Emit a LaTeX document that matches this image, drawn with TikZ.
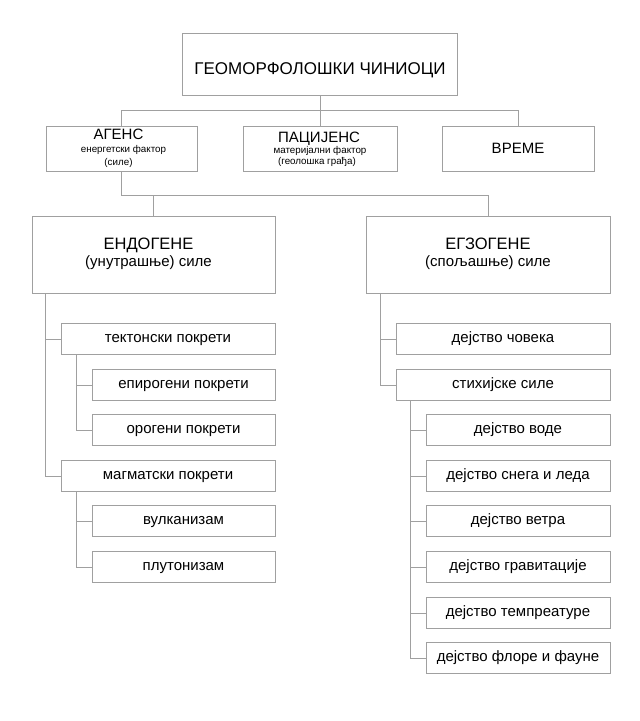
\documentclass[tikz,border=0pt]{standalone}
\usepackage{fontspec}
\setmainfont{Liberation Sans}
\definecolor{bord}{RGB}{160,160,160}
\tikzset{
  x=1pt, y=-1pt,
  box/.style={draw=bord, line width=1pt, fill=white, inner sep=0pt, anchor=center},
  lbl/.style={box, minimum height=31pt, font=\fontsize{15}{15}\selectfont, text height=7.8pt, text depth=0pt},
  conn/.style={draw=bord, line width=1pt},
}
\begin{document}
\begin{tikzpicture}
\useasboundingbox (0,0) rectangle (640,721);
% top
\node[box, minimum width=274.5pt, minimum height=61.5pt, font=\fontsize{17}{17}\selectfont, text height=20.8pt, text depth=0pt] (top) at (320,64.5) {ГЕОМОРФОЛОШКИ ЧИНИОЦИ};
% second row
\node[box, minimum width=151pt, minimum height=45pt] (agens) at (121.5,148.5) {};
\node[box, minimum width=154pt, minimum height=45pt] (pac) at (320,148.5) {};
\node[box, minimum width=152pt, minimum height=45pt, font=\fontsize{15}{15}\selectfont, text height=10.7pt, text depth=0pt] (vreme) at (518,148.5) {ВРЕМЕ};
\node[anchor=base, inner sep=0pt, font=\fontsize{15}{15}\selectfont] (agensA) at ([xshift=-3pt,yshift=9.3pt]agens.center) {АГЕНС};
\node[anchor=base, inner sep=0pt, font=\fontsize{9.8}{9.8}\selectfont] (agensB) at ([xshift=2pt,yshift=-4pt]agens.center) {енергетски фактор};
\node[anchor=base, inner sep=0pt, font=\fontsize{9.8}{9.8}\selectfont] (agensC) at ([xshift=-3pt,yshift=-16.5pt]agens.center) {(силе)};
\node[anchor=base, inner sep=0pt, font=\fontsize{15}{15}\selectfont] (pacA) at ([xshift=-1pt,yshift=6.5pt]pac.center) {ПАЦИЈЕНС};
\node[anchor=base, inner sep=0pt, font=\fontsize{9.8}{9.8}\selectfont] (pacB) at ([yshift=-5pt]pac.center) {материјални фактор};
\node[anchor=base, inner sep=0pt, font=\fontsize{9.8}{9.8}\selectfont] (pacC) at ([xshift=-3pt,yshift=-16pt]pac.center) {(геолошка грађа)};
% third row
\node[box, minimum width=243pt, minimum height=77pt] (endo) at (153.5,254.5) {};
\node[box, minimum width=244pt, minimum height=77pt] (egzo) at (488,254.5) {};
\node[anchor=base, inner sep=0pt, font=\fontsize{16.5}{16.5}\selectfont] (endoA) at ([xshift=-5pt,yshift=5.2pt]endo.center) {ЕНДОГЕНЕ};
\node[anchor=base, inner sep=0pt, font=\fontsize{15}{15}\selectfont] (endoB) at ([xshift=-5pt,yshift=-12.2pt]endo.center) {(унутрашње) силе};
\node[anchor=base, inner sep=0pt, font=\fontsize{16.5}{16.5}\selectfont] (egzoA) at ([yshift=5.2pt]egzo.center) {ЕГЗОГЕНЕ};
\node[anchor=base, inner sep=0pt, font=\fontsize{15}{15}\selectfont] (egzoB) at ([yshift=-12.2pt]egzo.center) {(спољашње) силе};
% left column
\node[lbl, minimum width=214pt] (tekt) at (168,339) {тектонски покрети};
\node[lbl, minimum width=183pt] (epi) at (183.5,385) {епирогени покрети};
\node[lbl, minimum width=183pt] (oro) at (183.5,430) {орогени покрети};
\node[lbl, minimum width=214pt] (mag) at (168,476) {магматски покрети};
\node[lbl, minimum width=183pt] (vulk) at (183.5,521) {вулканизам};
\node[lbl, minimum width=183pt] (plut) at (183.5,567) {плутонизам};
% right column
\node[lbl, minimum width=214pt] (covek) at (503,339) {дејство човека};
\node[lbl, minimum width=214pt] (stih) at (503,385) {стихијске силе};
\node[lbl, minimum width=184pt] (voda) at (518,430) {дејство воде};
\node[lbl, minimum width=184pt] (sneg) at (518,476) {дејство снега и леда};
\node[lbl, minimum width=184pt] (vetar) at (518,521) {дејство ветра};
\node[lbl, minimum width=184pt] (grav) at (518,567) {дејство гравитације};
\node[lbl, minimum width=184pt] (temp) at (518,613) {дејство темпреатуре};
\node[lbl, minimum width=184pt] (flora) at (518,658) {дејство флоре и фауне};
% connectors
\coordinate (busA) at (0,110);
\coordinate (busB) at (0,195);
\draw[conn] (top.south) -- (pac.north);
\draw[conn] (agens.north) |- (busA -| vreme.north) -- (vreme.north);
\draw[conn] (agens.south) |- (busB -| egzo.north) -- (egzo.north);
\draw[conn] (endo.north) -- (endo.north |- busB);
% endogene tree
\coordinate (eL) at ([xshift=14pt]endo.south west);
\draw[conn] (eL) |- (mag.west);
\draw[conn] (tekt.west) -- (tekt.west -| eL);
\coordinate (tL) at ([xshift=15.5pt]tekt.south west);
\draw[conn] (tL) |- (oro.west);
\draw[conn] (epi.west) -- (epi.west -| tL);
\coordinate (mL) at ([xshift=15.5pt]mag.south west);
\draw[conn] (mL) |- (plut.west);
\draw[conn] (vulk.west) -- (vulk.west -| mL);
% egzogene tree
\coordinate (gL) at ([xshift=15pt]egzo.south west);
\draw[conn] (gL) |- (stih.west);
\draw[conn] (covek.west) -- (covek.west -| gL);
\coordinate (sL) at ([xshift=15pt]stih.south west);
\draw[conn] (sL) |- (flora.west);
\draw[conn] (voda.west) -- (voda.west -| sL);
\draw[conn] (sneg.west) -- (sneg.west -| sL);
\draw[conn] (vetar.west) -- (vetar.west -| sL);
\draw[conn] (grav.west) -- (grav.west -| sL);
\draw[conn] (temp.west) -- (temp.west -| sL);
\end{tikzpicture}
\end{document}
